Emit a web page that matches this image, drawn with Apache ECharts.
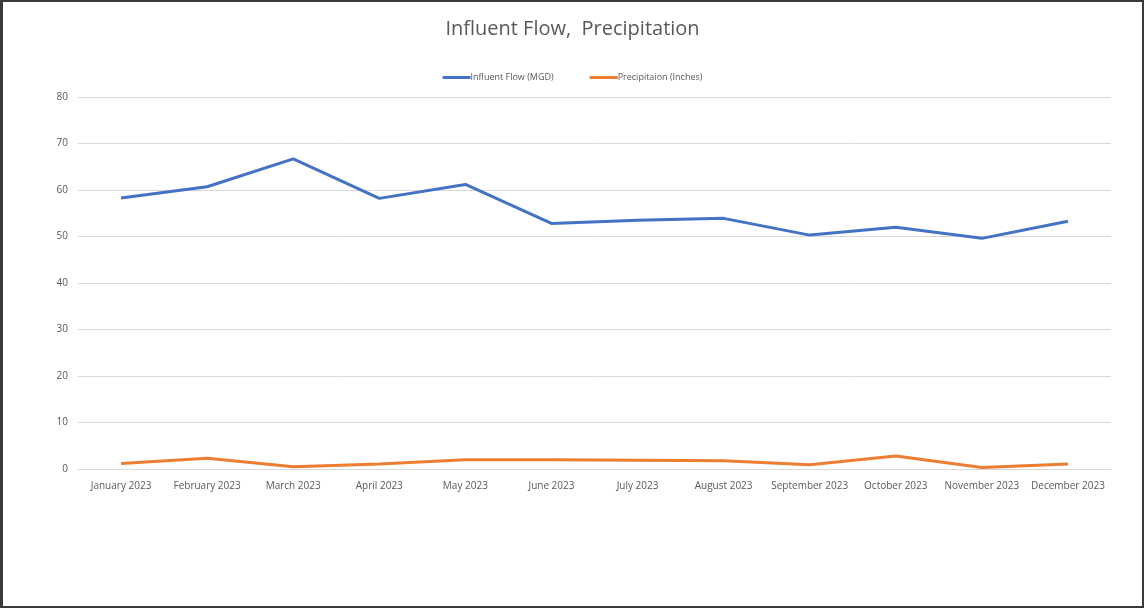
<!DOCTYPE html>
<html>
<head>
<meta charset="utf-8">
<script src="https://cdn.jsdelivr.net/npm/echarts@6/dist/echarts.min.js"></script>
<style>
  html, body { margin: 0; padding: 0; background: #ffffff; }
  #chart { width: 1144px; height: 608px; box-sizing: border-box; border: 2px solid #3a3a3a; border-left-width: 3px; }
</style>
</head>
<body>
<div id="chart"></div>
<script>
// Monthly categories and series values
const months = ['January 2023', 'February 2023', 'March 2023', 'April 2023', 'May 2023', 'June 2023',
  'July 2023', 'August 2023', 'September 2023', 'October 2023', 'November 2023', 'December 2023'];
const influentFlow = [58.3, 60.7, 66.7, 58.2, 61.2, 52.8, 53.5, 53.9, 50.3, 52.0, 49.6, 53.3];
const precipitation = [1.2, 2.3, 0.5, 1.1, 2.0, 2.0, 1.9, 1.8, 0.9, 2.8, 0.3, 1.1];
const yTicks = { min: 0, max: 80, interval: 10 };

const chart = echarts.init(document.getElementById('chart'), null, { renderer: 'canvas' });
const font = '"Open Sans", "Liberation Sans", sans-serif';

chart.setOption({
  backgroundColor: '#ffffff',
  animation: false,
  title: {
    text: 'Influent Flow,  Precipitation',
    left: 'center',
    top: 12,
    textStyle: { fontFamily: font, fontSize: 20, fontWeight: 'normal', color: '#595959' }
  },
  legend: {
    top: 66,
    left: 'center',
    icon: 'rect',
    itemWidth: 28,
    itemHeight: 3,
    itemGap: 36,
    textStyle: { fontFamily: font, fontSize: 9, color: '#595959', padding: [0, 0, 0, -5] },
    data: ['Influent Flow (MGD)', 'Precipitaion (Inches)']
  },
  grid: { left: 75, right: 31, top: 95, bottom: 137 },
  xAxis: {
    type: 'category',
    data: months,
    boundaryGap: true,
    axisLine: { show: true, lineStyle: { color: '#d9d9d9' } },
    axisTick: { show: false },
    axisLabel: { fontFamily: font, fontSize: 10, color: '#595959', margin: 12, interval: 0 }
  },
  yAxis: {
    type: 'value',
    min: yTicks.min,
    max: yTicks.max,
    interval: yTicks.interval,
    axisLine: { show: false },
    axisTick: { show: false },
    splitLine: { lineStyle: { color: '#d9d9d9', width: 1 } },
    axisLabel: { fontFamily: font, fontSize: 10, color: '#595959', margin: 10 }
  },
  series: [
    {
      name: 'Influent Flow (MGD)',
      type: 'line',
      data: influentFlow,
      symbol: 'none',
      lineStyle: { color: '#4472C4', width: 3 },
      itemStyle: { color: '#4472C4' }
    },
    {
      name: 'Precipitaion (Inches)',
      type: 'line',
      data: precipitation,
      symbol: 'none',
      lineStyle: { color: '#ED7D31', width: 3 },
      itemStyle: { color: '#ED7D31' }
    }
  ]
});
</script>
</body>
</html>
